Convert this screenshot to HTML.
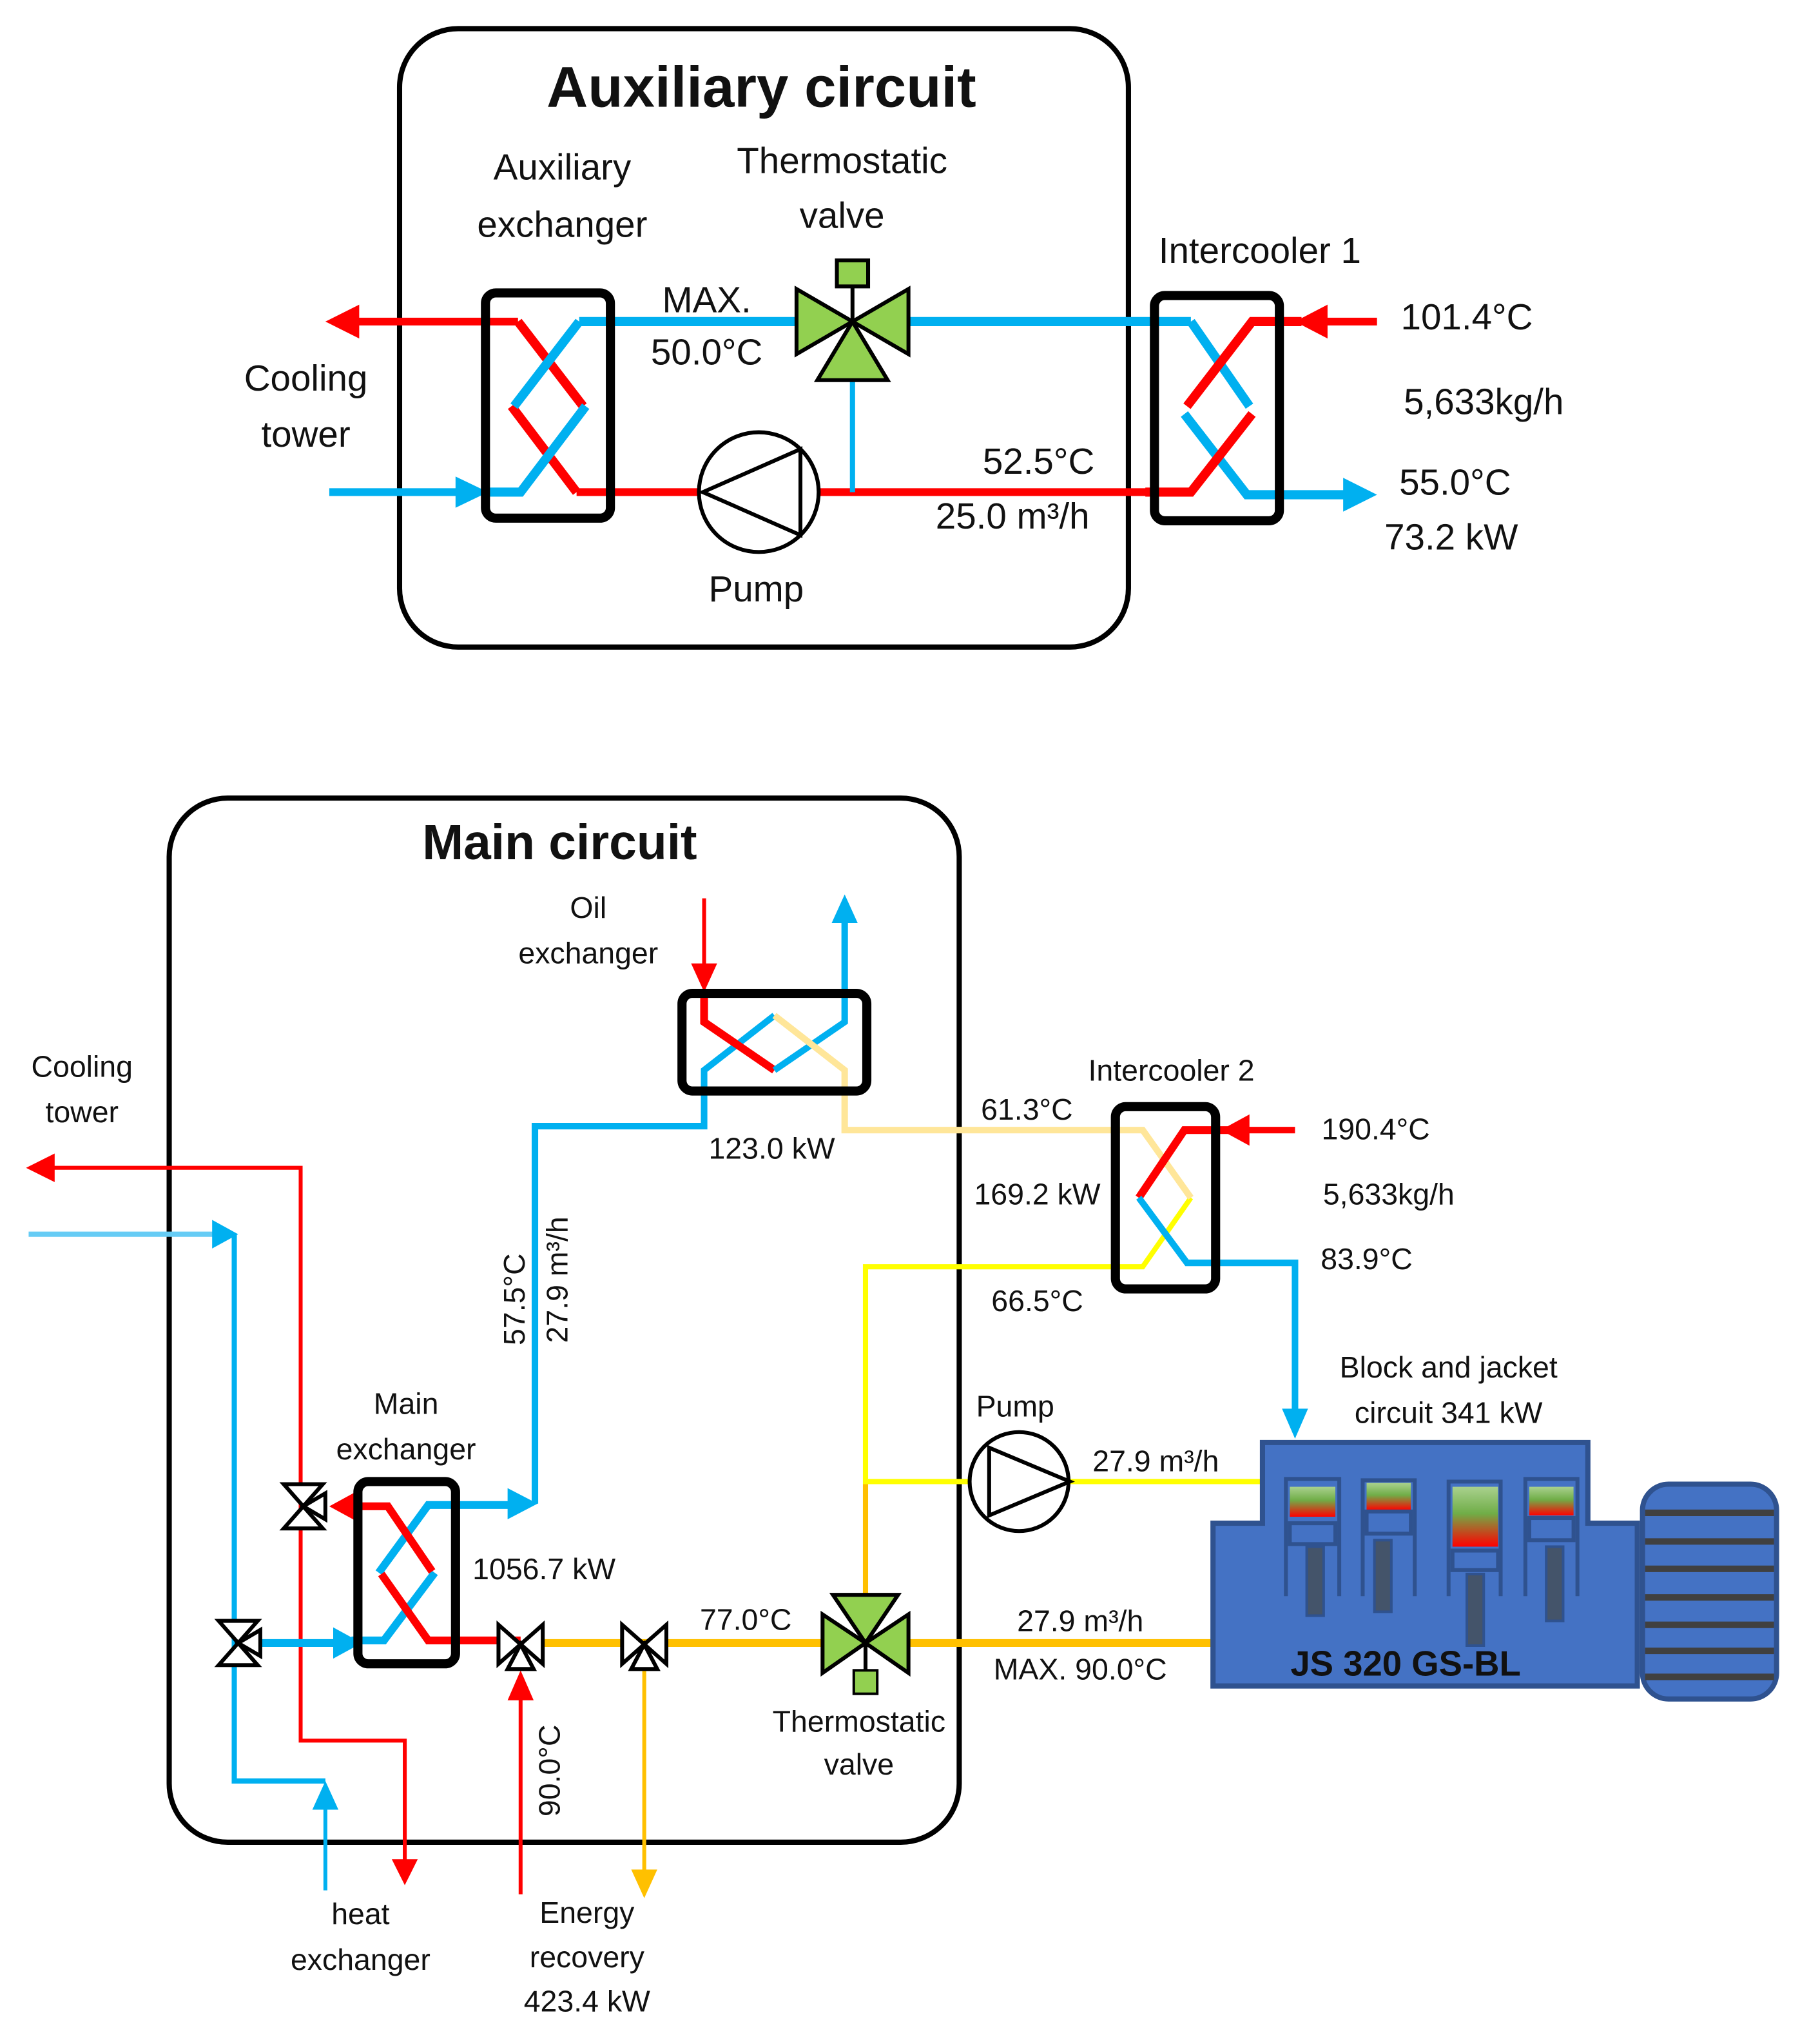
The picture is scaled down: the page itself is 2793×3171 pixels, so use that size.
<!DOCTYPE html>
<html><head><meta charset="utf-8"><style>
html,body{margin:0;padding:0;background:#fff}
svg{display:block}
text{font-family:"Liberation Sans",sans-serif;fill:#111}
</style></head><body>
<svg width="2793" height="3171" viewBox="0 0 1383 1570" preserveAspectRatio="none" xmlns="http://www.w3.org/2000/svg">
<defs>
<linearGradient id="cyl" x1="0" y1="0" x2="0" y2="1">
<stop offset="0" stop-color="#a9d18e"/><stop offset="0.45" stop-color="#70ad47"/><stop offset="1" stop-color="#ff0000"/>
</linearGradient>
</defs>
<g fill="none" stroke-linejoin="miter">
<!-- ============ AUXILIARY CIRCUIT ============ -->
<rect x="307" y="22" width="560" height="475" rx="45" stroke="#000" stroke-width="4"/>
<path d="M398 247 H270" stroke="#f00" stroke-width="6"/>
<polygon points="250,247 276,234 276,260" fill="#f00" stroke="none"/>
<path d="M253 378 H360" stroke="#00b0f0" stroke-width="6"/>
<polygon points="375,378 350,366 350,390" fill="#00b0f0" stroke="none"/>
<path d="M398 247 L448 312 M393 312 L443 378" stroke="#f00" stroke-width="7"/>
<path d="M445 247 L395 312 M450 312 L400 378 H375" stroke="#00b0f0" stroke-width="7"/>
<path d="M445 247 H612 M698 247 H915" stroke="#00b0f0" stroke-width="7"/>
<path d="M443 378 H885" stroke="#f00" stroke-width="6"/>
<path d="M655 290 V378" stroke="#00b0f0" stroke-width="4"/>
<rect x="373" y="225" width="96" height="173" rx="8" stroke="#000" stroke-width="7"/>
<rect x="643" y="200" width="24" height="20" fill="#92d050" stroke="#000" stroke-width="3"/>
<path d="M655 220 V247" stroke="#000" stroke-width="3"/>
<polygon points="612,222 612,272 655,247" fill="#92d050" stroke="#000" stroke-width="3"/>
<polygon points="698,222 698,272 655,247" fill="#92d050" stroke="#000" stroke-width="3"/>
<polygon points="655,247 628,292 682,292" fill="#92d050" stroke="#000" stroke-width="3"/>
<circle cx="583" cy="378" r="46" fill="#fff" stroke="#000" stroke-width="3"/>
<polygon points="540,378 615,345 615,411" stroke="#000" stroke-width="3"/>
<path d="M915 247 L960 312 M910 318 L958 380 H1040" stroke="#00b0f0" stroke-width="7"/>
<polygon points="1058,380 1032,367 1032,393" fill="#00b0f0" stroke="none"/>
<path d="M1058 247 H1015" stroke="#f00" stroke-width="6"/>
<polygon points="995,247 1020,234 1020,260" fill="#f00" stroke="none"/>
<path d="M1000 247 H962 L912 312 M962 318 L915 378 H880" stroke="#f00" stroke-width="7"/>
<rect x="887" y="227" width="96" height="173" rx="8" stroke="#000" stroke-width="7"/>

<!-- ============ MAIN CIRCUIT ============ -->
<rect x="130" y="613" width="607" height="802" rx="45" stroke="#000" stroke-width="4"/>
<path d="M40 897 H231 V1337 H311 V1430" stroke="#f00" stroke-width="3"/>
<polygon points="20,897 42,886 42,908" fill="#f00" stroke="none"/>
<polygon points="311,1448 301,1428 321,1428" fill="#f00" stroke="none"/>
<path d="M22 948 H165" stroke="#66ccf5" stroke-width="4"/>
<polygon points="183,948 163,937 163,959" fill="#00b0f0" stroke="none"/>
<path d="M180 948 V1368 H250" stroke="#00b0f0" stroke-width="4"/>
<path d="M250 1452 V1385" stroke="#00b0f0" stroke-width="3"/>
<polygon points="250,1368 240,1390 260,1390" fill="#00b0f0" stroke="none"/>
<!-- main exchanger -->
<path d="M183 1262 H260" stroke="#00b0f0" stroke-width="6"/>
<polygon points="278,1262 256,1250 256,1274" fill="#00b0f0" stroke="none"/>
<path d="M270 1260 H295 L334 1208 M291 1208 L329 1156 H395" stroke="#00b0f0" stroke-width="6"/>
<polygon points="413,1155 390,1143 390,1167" fill="#00b0f0" stroke="none"/>
<path d="M411 1155 V865 H541 V822 L595 780" stroke="#00b0f0" stroke-width="5"/>
<path d="M400 1260 H329 L293 1209 M332 1207 L298 1157 H270" stroke="#f00" stroke-width="6"/>
<polygon points="253,1157 275,1145 275,1169" fill="#f00" stroke="none"/>
<rect x="275" y="1138" width="75" height="140" rx="8" stroke="#000" stroke-width="7"/>
<path d="M410 1262 H632 M698 1262 H932" stroke="#ffc000" stroke-width="6"/>
<path d="M495 1275 V1440" stroke="#ffc000" stroke-width="3"/>
<polygon points="495,1458 485,1436 505,1436" fill="#ffc000" stroke="none"/>
<path d="M665 1140 V1228" stroke="#ffc000" stroke-width="4"/>
<path d="M400 1455 V1300" stroke="#f00" stroke-width="3"/>
<polygon points="400,1283 390,1306 410,1306" fill="#f00" stroke="none"/>
<path d="M665 1140 V973 H878 L915 920" stroke="#ffff00" stroke-width="4"/>
<path d="M665 1138 H745 M822 1138 H970" stroke="#ffff00" stroke-width="4"/>
<!-- oil exchanger -->
<path d="M541 690 V742" stroke="#f00" stroke-width="3"/>
<polygon points="541,762 531,740 551,740" fill="#f00" stroke="none"/>
<path d="M541 762 V785 L595 822" stroke="#f00" stroke-width="6"/>
<path d="M595 822 L649 785 V705" stroke="#00b0f0" stroke-width="5"/>
<polygon points="649,687 639,709 659,709" fill="#00b0f0" stroke="none"/>
<path d="M595 780 L649 822 V868 H878 L915 920" stroke="#ffe699" stroke-width="5"/>
<rect x="524" y="763" width="142" height="75" rx="8" stroke="#000" stroke-width="7"/>
<!-- intercooler 2 -->
<path d="M995 868 H955" stroke="#f00" stroke-width="5"/>
<polygon points="938,868 960,856 960,880" fill="#f00" stroke="none"/>
<path d="M945 868 H910 L875 920" stroke="#f00" stroke-width="6"/>
<path d="M875 920 L912 970 H995 V1085" stroke="#00b0f0" stroke-width="5"/>
<polygon points="995,1105 985,1082 1005,1082" fill="#00b0f0" stroke="none"/>
<rect x="857" y="850" width="77" height="140" rx="8" stroke="#000" stroke-width="7"/>
<circle cx="783" cy="1138" r="38" fill="#fff" stroke="#000" stroke-width="3"/>
<polygon points="822,1138 760,1112 760,1164" stroke="#000" stroke-width="3"/>
<polygon points="640,1225 690,1225 665,1262" fill="#92d050" stroke="#000" stroke-width="3"/>
<polygon points="632,1240 632,1285 665,1262" fill="#92d050" stroke="#000" stroke-width="3"/>
<polygon points="698,1240 698,1285 665,1262" fill="#92d050" stroke="#000" stroke-width="3"/>
<path d="M665 1262 V1283" stroke="#000" stroke-width="3"/>
<rect x="656" y="1283" width="18" height="18" fill="#92d050" stroke="#000" stroke-width="2"/>
<g stroke="#000" stroke-width="3" fill="#fff">
<polygon points="218,1140 248,1140 233,1157 218,1174 248,1174 233,1157"/>
<polygon points="233,1157 250,1147 250,1167"/>
<polygon points="168,1245 198,1245 183,1262 168,1279 198,1279 183,1262"/>
<polygon points="183,1262 200,1252 200,1272"/>
<polygon points="383,1248 383,1278 400,1263 417,1248 417,1278 400,1263"/>
<polygon points="400,1263 390,1282 410,1282"/>
<polygon points="478,1248 478,1278 495,1263 512,1248 512,1278 495,1263"/>
<polygon points="495,1263 485,1282 505,1282"/>
</g>
<!-- engine -->
<polygon points="932,1170 970,1170 970,1108 1220,1108 1220,1170 1258,1170 1258,1295 932,1295" fill="#4472c4" stroke="#2f528f" stroke-width="4"/>
<g stroke="#2f528f" stroke-width="3">
<path d="M988 1226 V1136 H1029 V1226 M1047 1226 V1137 H1087 V1226 M1113 1226 V1138 H1153 V1226 M1172 1226 V1136 H1212 V1226"/>
</g>
<rect x="991" y="1142" width="35" height="23" fill="url(#cyl)"/>
<rect x="1050" y="1139" width="34" height="21" fill="url(#cyl)"/>
<rect x="1116" y="1142" width="35" height="46" fill="url(#cyl)"/>
<rect x="1175" y="1142" width="34" height="22" fill="url(#cyl)"/>
<g stroke="#2f528f" stroke-width="3">
<rect x="991" y="1170" width="35" height="16"/><rect x="1050" y="1161" width="34" height="17"/>
<rect x="1116" y="1191" width="35" height="15"/><rect x="1175" y="1166" width="34" height="17"/>
</g>
<g fill="#44546a" stroke="#2f528f" stroke-width="2">
<rect x="1004" y="1188" width="13" height="53"/><rect x="1056" y="1183" width="13" height="55"/>
<rect x="1127" y="1209" width="13" height="55"/><rect x="1188" y="1188" width="13" height="57"/>
</g>
<rect x="1262" y="1140" width="103" height="165" rx="20" fill="#4472c4" stroke="#2f528f" stroke-width="4"/>
<g stroke="#404040" stroke-width="5">
<path d="M1264 1162 H1363 M1264 1184 H1363 M1264 1205 H1363 M1264 1227 H1363 M1264 1248 H1363 M1264 1268 H1363 M1264 1288 H1363"/>
</g>
</g>

<g text-anchor="middle" font-size="28">
<text x="585" y="82" font-size="44" font-weight="bold">Auxiliary circuit</text>
<text x="432" y="138">Auxiliary</text>
<text x="432" y="182">exchanger</text>
<text x="647" y="133">Thermostatic</text>
<text x="647" y="175">valve</text>
<text x="968" y="202">Intercooler 1</text>
<text x="235" y="300">Cooling</text>
<text x="235" y="343">tower</text>
<text x="543" y="240">MAX.</text>
<text x="543" y="280">50.0°C</text>
<text x="798" y="364">52.5°C</text>
<text x="778" y="406">25.0 m³/h</text>
<text x="581" y="462">Pump</text>
<text x="1127" y="253">101.4°C</text>
<text x="1140" y="318">5,633kg/h</text>
<text x="1118" y="380">55.0°C</text>
<text x="1115" y="422">73.2 kW</text>
</g>
<g text-anchor="middle" font-size="23">
<text x="430" y="660" font-size="38" font-weight="bold">Main circuit</text>
<text x="452" y="705">Oil</text>
<text x="452" y="740">exchanger</text>
<text x="63" y="827">Cooling</text>
<text x="63" y="862">tower</text>
<text x="593" y="890">123.0 kW</text>
<text x="900" y="830">Intercooler 2</text>
<text x="789" y="860">61.3°C</text>
<text x="797" y="925">169.2 kW</text>
<text x="797" y="1007">66.5°C</text>
<text x="1057" y="875">190.4°C</text>
<text x="1067" y="925">5,633kg/h</text>
<text x="1050" y="975">83.9°C</text>
<text x="1113" y="1058">Block and jacket</text>
<text x="1113" y="1093">circuit 341 kW</text>
<text x="780" y="1088">Pump</text>
<text x="888" y="1130">27.9 m³/h</text>
<text x="312" y="1086">Main</text>
<text x="312" y="1121">exchanger</text>
<text x="418" y="1213">1056.7 kW</text>
<text x="573" y="1252">77.0°C</text>
<text x="830" y="1253">27.9 m³/h</text>
<text x="830" y="1290">MAX. 90.0°C</text>
<text x="660" y="1330">Thermostatic</text>
<text x="660" y="1363">valve</text>
<text x="277" y="1478">heat</text>
<text x="277" y="1513">exchanger</text>
<text x="451" y="1477">Energy</text>
<text x="451" y="1511">recovery</text>
<text x="451" y="1545">423.4 kW</text>
<text transform="translate(403,998) rotate(-90)">57.5°C</text>
<text transform="translate(436,983) rotate(-90)">27.9 m³/h</text>
<text transform="translate(430,1360) rotate(-90)">90.0°C</text>
<text x="1080" y="1287" font-size="27" font-weight="bold" fill="#000">JS 320 GS-BL</text>
</g>
</svg>
</body></html>
